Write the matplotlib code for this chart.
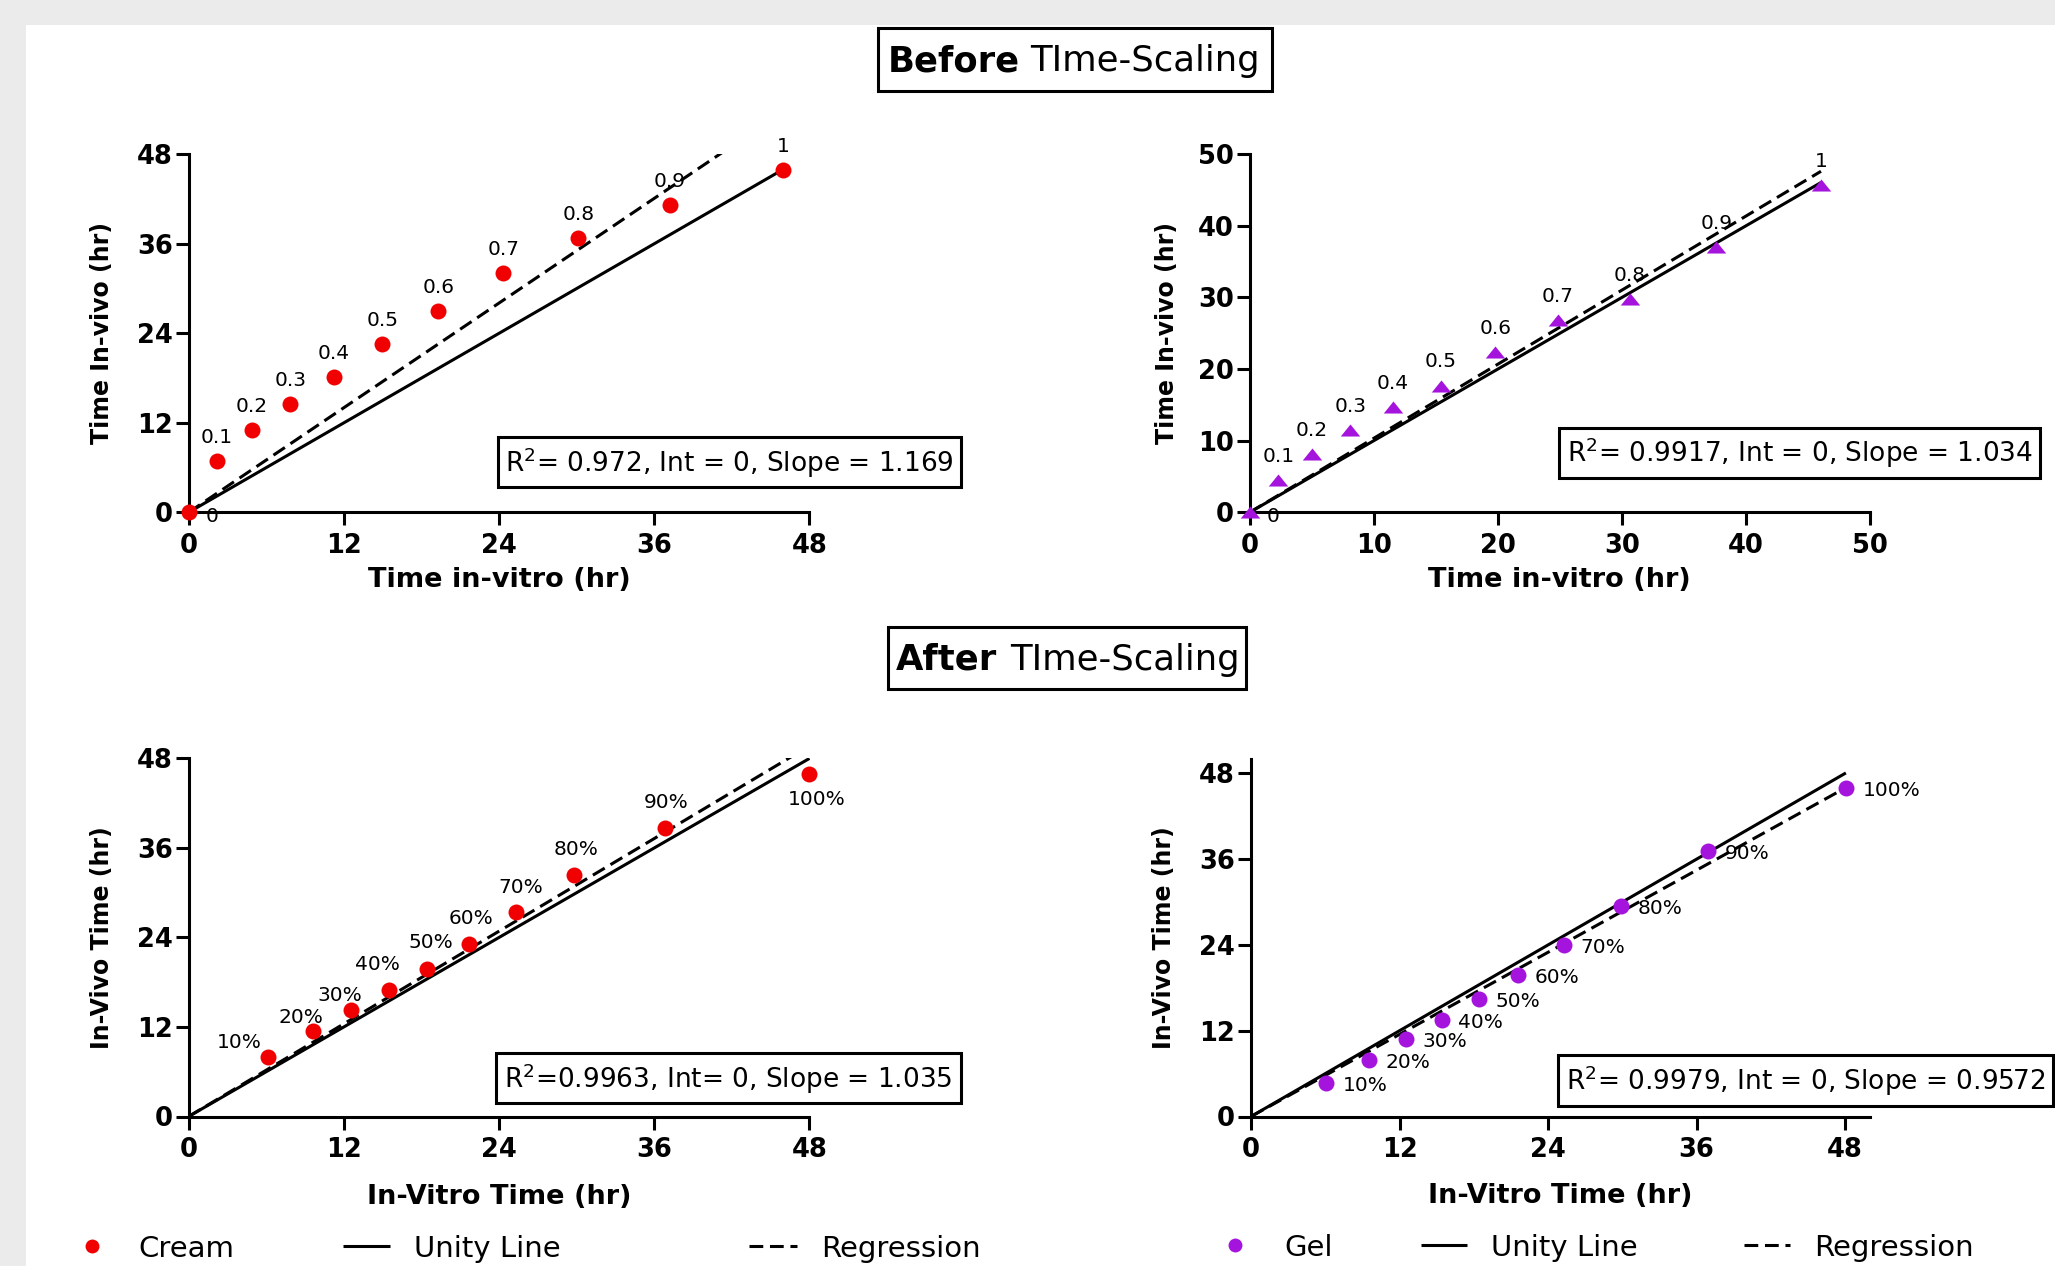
import matplotlib
matplotlib.use("Agg")
import matplotlib.pyplot as plt
from matplotlib.lines import Line2D
from matplotlib.patches import Rectangle

# ---- data ----
before_labels = ["0", "0.1", "0.2", "0.3", "0.4", "0.5", "0.6", "0.7", "0.8", "0.9", "1"]
after_labels = ["10%", "20%", "30%", "40%", "50%", "60%", "70%", "80%", "90%", "100%"]

cream_before_x = [0, 2.18, 4.87, 7.87, 11.22, 14.98, 19.30, 24.33, 30.12, 37.18, 45.97]
cream_before_y = [0, 6.83, 11.0, 14.57, 18.17, 22.51, 26.96, 32.05, 36.71, 41.22, 45.88]

gel_before_x = [0, 2.32, 5.00, 8.11, 11.54, 15.39, 19.81, 24.82, 30.67, 37.62, 46.05]
gel_before_y = [0, 4.47, 8.17, 11.47, 14.67, 17.71, 22.40, 26.82, 29.75, 37.03, 45.74]

cream_after_x = [6.15, 9.60, 12.59, 15.49, 18.44, 21.64, 25.34, 29.81, 36.82, 48.0]
cream_after_y = [8.0, 11.43, 14.30, 16.96, 19.83, 23.14, 27.35, 32.31, 38.61, 45.95]

gel_after_x = [6.07, 9.50, 12.51, 15.41, 18.42, 21.54, 25.29, 29.88, 36.91, 48.05]
gel_after_y = [4.71, 7.93, 10.81, 13.50, 16.49, 19.83, 23.97, 29.43, 37.13, 45.98]

slopes = {"cream_before": 1.169, "gel_before": 1.034, "cream_after": 1.035, "gel_after": 0.9572}
stats = {
    "cream_before": "R$^2$= 0.972, Int = 0, Slope = 1.169",
    "gel_before": "R$^2$= 0.9917, Int = 0, Slope = 1.034",
    "cream_after": "R$^2$=0.9963, Int= 0, Slope = 1.035",
    "gel_after": "R$^2$= 0.9979, Int = 0, Slope = 0.9572",
}

ticks_48 = [0, 12, 24, 36, 48]
ticks_50 = [0, 10, 20, 30, 40, 50]

# offsets (points) for the "after" cream labels
cream_after_offsets = [(-21, 10), (-8.5, 10), (-8.5, 10), (-8.5, 18.5), (3, 18.5),
                       (2, 18.5), (3, 18), (1, 18.5), (1, 18.5), (5, -18.5)]

RED = "#f00000"
PURPLE = "#a414dc"
LW = 2.2
DASH = (4.5, 2.2)
TRI = [(-1, -0.62), (1, -0.62), (0, 0.62)]
LABEL_FS = 14.5

W, H, DPI = 2055, 1266, 100


def fx(px):
    return px / W


def fy(py):
    return 1 - py / H


fig = plt.figure(figsize=(W / DPI, H / DPI), dpi=DPI, facecolor="#ebebeb")
fig.add_artist(Rectangle((fx(26), 0), 1 - fx(26), fy(25), transform=fig.transFigure,
                         facecolor="white", edgecolor="none", zorder=-10))


def make_axes(left, top, right, bottom):
    return fig.add_axes([fx(left), fy(bottom), (right - left) / W, (bottom - top) / H])


def style(ax, lim, xticks, yticks, xlabel, ylabel, xlab_y, ylab_x, ylim=None):
    ax.set_facecolor("none")
    for s in ["top", "right"]:
        ax.spines[s].set_visible(False)
    for s in ["left", "bottom"]:
        ax.spines[s].set_linewidth(LW)
    ax.set_xlim(*lim)
    ax.set_ylim(*(ylim if ylim else lim))
    ax.set_xticks(xticks, [str(t) for t in xticks], fontsize=18.5, fontweight="bold")
    ax.set_yticks(yticks, [str(t) for t in yticks], fontsize=18.5, fontweight="bold")
    ax.tick_params(length=9.5, width=LW, direction="out")
    ax.tick_params(axis="y", pad=2)
    ax.tick_params(axis="x", pad=5)
    ax.set_xlabel(xlabel, fontsize=19.5, fontweight="bold", va="center")
    ax.xaxis.set_label_coords(0.5, xlab_y)
    ax.set_ylabel(ylabel, fontsize=17, fontweight="bold", va="center")
    ax.yaxis.set_label_coords(ylab_x, 0.5)


def draw_lines(ax, xs, slope):
    xm = max(xs)
    ax.plot([0, xm], [0, xm], color="black", lw=LW, solid_capstyle="butt", zorder=2)
    ax.plot([0, xm], [0, slope * xm], color="black", lw=LW, dashes=DASH, zorder=2)


def stat_box(left, top, right, bottom, text):
    fig.add_artist(Rectangle((fx(left), fy(bottom)), (right - left) / W, (bottom - top) / H,
                             transform=fig.transFigure, facecolor="white",
                             edgecolor="black", lw=LW, zorder=5))
    cy = (top + bottom) / 2
    fig.text(fx((left + right) / 2), fy(cy + 9.5), text, ha="center", va="baseline",
             fontsize=19, zorder=6)


def title_box(left, top, right, bottom, x_bold, x_norm, bold, normal):
    fig.add_artist(Rectangle((fx(left), fy(bottom)), (right - left) / W, (bottom - top) / H,
                             transform=fig.transFigure, facecolor="white",
                             edgecolor="black", lw=LW, zorder=5))
    base = (top + bottom) / 2 + 12
    fig.text(fx(x_bold), fy(base), bold, ha="left", va="baseline", fontsize=25.5,
             fontweight="bold", zorder=6)
    fig.text(fx(x_norm), fy(base), normal, ha="left", va="baseline", fontsize=25.5, zorder=6)


# ---- panel 1: cream, before ----
ax1 = make_axes(188.6, 154.2, 809.5, 512.4)
style(ax1, (0, 48), ticks_48, ticks_48, "Time in-vitro (hr)", "Time In-vivo (hr)", -0.189, -0.139)
draw_lines(ax1, cream_before_x, slopes["cream_before"])
ax1.plot(cream_before_x, cream_before_y, "o", ms=11.5, color=RED, mec="none", clip_on=False, zorder=4)
for x, y, lbl in zip(cream_before_x, cream_before_y, before_labels):
    off = (17, -3) if lbl == "0" else (0, 17)
    ax1.annotate(lbl, (x, y), xytext=off, textcoords="offset points", ha="center", va="center",
                 fontsize=LABEL_FS, annotation_clip=False)

# ---- panel 2: gel, before ----
ax2 = make_axes(1249.6, 154.2, 1870, 512.4)
style(ax2, (0, 50), ticks_50, ticks_50, "Time in-vitro (hr)", "Time In-vivo (hr)", -0.189, -0.133)
draw_lines(ax2, gel_before_x, slopes["gel_before"])
ax2.plot(gel_before_x, gel_before_y, marker=TRI, ls="none", ms=14, color=PURPLE, mec="none",
         clip_on=False, zorder=4)
for x, y, lbl in zip(gel_before_x, gel_before_y, before_labels):
    off = (17, -3) if lbl == "0" else (0, 17)
    ax2.annotate(lbl, (x, y), xytext=off, textcoords="offset points", ha="center", va="center",
                 fontsize=LABEL_FS, annotation_clip=False)

# ---- panel 3: cream, after ----
ax3 = make_axes(188.6, 758.4, 809.5, 1116.5)
style(ax3, (0, 48), ticks_48, ticks_48, "In-Vitro Time (hr)", "In-Vivo Time (hr)", -0.225, -0.139)
draw_lines(ax3, cream_after_x, slopes["cream_after"])
ax3.plot(cream_after_x, cream_after_y, "o", ms=11.5, color=RED, mec="none", clip_on=False, zorder=4)
for x, y, lbl, off in zip(cream_after_x, cream_after_y, after_labels, cream_after_offsets):
    ax3.annotate(lbl, (x, y), xytext=off, textcoords="offset points", ha="center", va="center",
                 fontsize=LABEL_FS, annotation_clip=False)

# ---- panel 4: gel, after ----
ax4 = make_axes(1251, 759, 1870, 1116.5)
style(ax4, (0, 50), ticks_48, ticks_48, "In-Vitro Time (hr)", "In-Vivo Time (hr)", -0.221, -0.141)
draw_lines(ax4, gel_after_x, slopes["gel_after"])
ax4.plot(gel_after_x, gel_after_y, "o", ms=11.5, color=PURPLE, mec="none", clip_on=False, zorder=4)
for x, y, lbl in zip(gel_after_x, gel_after_y, after_labels):
    ax4.annotate(lbl, (x, y), xytext=(12, -2), textcoords="offset points", ha="left", va="center",
                 fontsize=LABEL_FS, annotation_clip=False)

# ---- boxes ----
title_box(878, 28, 1272, 91, 888, 1030, "Before", "TIme-Scaling")
title_box(888, 627, 1246, 689, 896, 1010, "After", "TIme-Scaling")
stat_box(498, 437, 961, 487, stats["cream_before"])
stat_box(1559, 428, 2040, 478, stats["gel_before"])
stat_box(496, 1053, 961, 1103, stats["cream_after"])
stat_box(1558, 1055, 2053, 1106, stats["gel_after"])


# ---- legends ----
def legend_row(y, dot_x, color, name, name_x, solid, unity_x, dashed, reg_x):
    fig.add_artist(Line2D([fx(dot_x)], [fy(y)], marker="o", ms=10, color=color, mec="none",
                          ls="none", transform=fig.transFigure))
    fig.add_artist(Line2D([fx(solid[0]), fx(solid[1])], [fy(y), fy(y)], color="black", lw=LW,
                          solid_capstyle="butt", transform=fig.transFigure))
    fig.add_artist(Line2D([fx(dashed[0]), fx(dashed[1])], [fy(y), fy(y)], color="black", lw=LW,
                          dashes=DASH, transform=fig.transFigure))
    base = fy(y + 11)
    fig.text(fx(name_x), base, name, ha="left", va="baseline", fontsize=21)
    fig.text(fx(unity_x), base, "Unity Line", ha="left", va="baseline", fontsize=21)
    fig.text(fx(reg_x), base, "Regression", ha="left", va="baseline", fontsize=21)


legend_row(1246, 92, RED, "Cream", 138, (343, 390), 414, (749, 797), 821)
legend_row(1245, 1235, PURPLE, "Gel", 1284, (1421, 1467), 1491, (1744, 1790), 1814)

fig.savefig("out.png", dpi=DPI, facecolor=fig.get_facecolor())
